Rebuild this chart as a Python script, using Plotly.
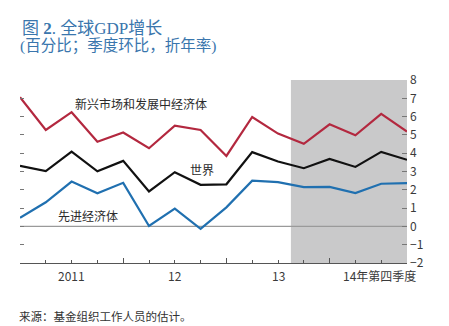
import plotly.graph_objects as go

# Quarterly GDP growth, 2011Q1 – 2014Q4 (percent, q/q annualized)
quarters = list(range(16))
emerging = [7.06, 5.27, 6.24, 4.63, 5.13, 4.27, 5.51, 5.27,
            3.85, 5.98, 5.07, 4.51, 5.58, 4.98, 6.15, 5.18]
world = [3.31, 3.02, 4.09, 3.01, 3.58, 1.91, 2.96, 2.27,
         2.30, 4.06, 3.55, 3.18, 3.69, 3.25, 4.07, 3.64]
advanced = [0.47, 1.32, 2.45, 1.81, 2.38, 0.02, 0.97, -0.13,
            1.04, 2.50, 2.42, 2.15, 2.16, 1.82, 2.33, 2.37]

series_names = ["新兴市场和发展中经济体", "世界", "先进经济体"]
year_labels = ["2011", "12", "13", "14年第四季度"]
year_label_pos = [2, 6, 10, 13.95]
forecast_start = 10.5

CJK = "Noto Sans CJK SC"
TICK_GREY = "#3a3a3a"

fig = go.Figure()

# projection period shading
fig.add_shape(type="rect", xref="x", yref="paper", x0=forecast_start, x1=15,
              y0=0, y1=1, fillcolor="#c9c9ca", line_width=0, layer="below")
# zero line
fig.add_shape(type="line", xref="paper", yref="y", x0=0, x1=1, y0=0, y1=0,
              line=dict(color="#9a9a9a", width=1.2), layer="below")

colors = ["#b3283f", "#111111", "#2070b0"]
for name, vals, col in zip(series_names, [emerging, world, advanced], colors):
    fig.add_trace(go.Scatter(x=quarters, y=vals, mode="lines", name=name,
                             line=dict(color=col, width=2.2), showlegend=False,
                             hoverinfo="skip"))

# invisible trace anchoring the left tick axis
fig.add_trace(go.Scatter(x=[0], y=[0], yaxis="y2", mode="markers",
                         marker=dict(opacity=0), showlegend=False, hoverinfo="skip"))

fig.update_layout(
    width=449, height=326,
    margin=dict(l=20, r=42, t=80, b=63),
    paper_bgcolor="white", plot_bgcolor="white",
    font=dict(family=CJK, size=12, color=TICK_GREY),
    xaxis=dict(range=[0, 15], showgrid=False, zeroline=False,
               showline=True, linecolor="#555555", linewidth=1,
               tickvals=[0, 4, 8, 12], ticks="inside", ticklen=5,
               tickcolor="#555555", showticklabels=False,
               minor=dict(dtick=1, tick0=0, ticks="inside", ticklen=3,
                          tickcolor="#555555")),
    yaxis=dict(range=[-2, 8], dtick=1, side="right", showgrid=False,
               zeroline=False, showline=False, ticks="inside", ticklen=5,
               tickcolor="#777777", tickfont=dict(size=12, color=TICK_GREY),
               ticklabelstandoff=2),
    yaxis2=dict(range=[-2, 8], dtick=1, overlaying="y", side="left",
                showgrid=False, zeroline=False, showline=False,
                ticks="inside", ticklen=4, tickcolor="#777777",
                showticklabels=False),
)

# year labels under the axis
for lab, pos in zip(year_labels, year_label_pos):
    fig.add_annotation(x=pos, y=0, xref="x", yref="paper", yshift=-12,
                       text=lab, showarrow=False, xanchor="center",
                       yanchor="middle", font=dict(size=12, color=TICK_GREY))

# series labels
series_label_xy = [(4.7, 6.7), (7.05, 3.09), (2.65, 0.58)]
for name, (lx, ly) in zip(series_names, series_label_xy):
    fig.add_annotation(x=lx, y=ly, xref="x", yref="y", text=name,
                       showarrow=False, xanchor="center", yanchor="middle",
                       font=dict(size=12, color="#2a2a2a"))

# title, subtitle and source note, positioned in pixels from the top
TITLE_BLUE = "#3a76ad"
plot_h = 326 - 80 - 63


def paper_y(px_from_top):
    return (326 - 63 - px_from_top) / plot_h


fig.add_annotation(x=0, y=paper_y(29), xref="paper", yref="paper", xshift=0,
                   text="图 <b>2</b>. 全球GDP增长", showarrow=False,
                   xanchor="left", yanchor="middle",
                   font=dict(family="Liberation Serif, " + CJK, size=17,
                             color=TITLE_BLUE))
fig.add_annotation(x=0, y=paper_y(46), xref="paper", yref="paper", xshift=-2,
                   text="(百分比；季度环比，折年率)", showarrow=False,
                   xanchor="left", yanchor="middle",
                   font=dict(family="Liberation Serif, " + CJK, size=15.5,
                             color=TITLE_BLUE))
fig.add_annotation(x=0, y=paper_y(316), xref="paper", yref="paper", xshift=-3,
                   text="来源：基金组织工作人员的估计。", showarrow=False,
                   xanchor="left", yanchor="middle",
                   font=dict(family=CJK, size=11.5, color="#333333"))

fig.write_html("out.html")
